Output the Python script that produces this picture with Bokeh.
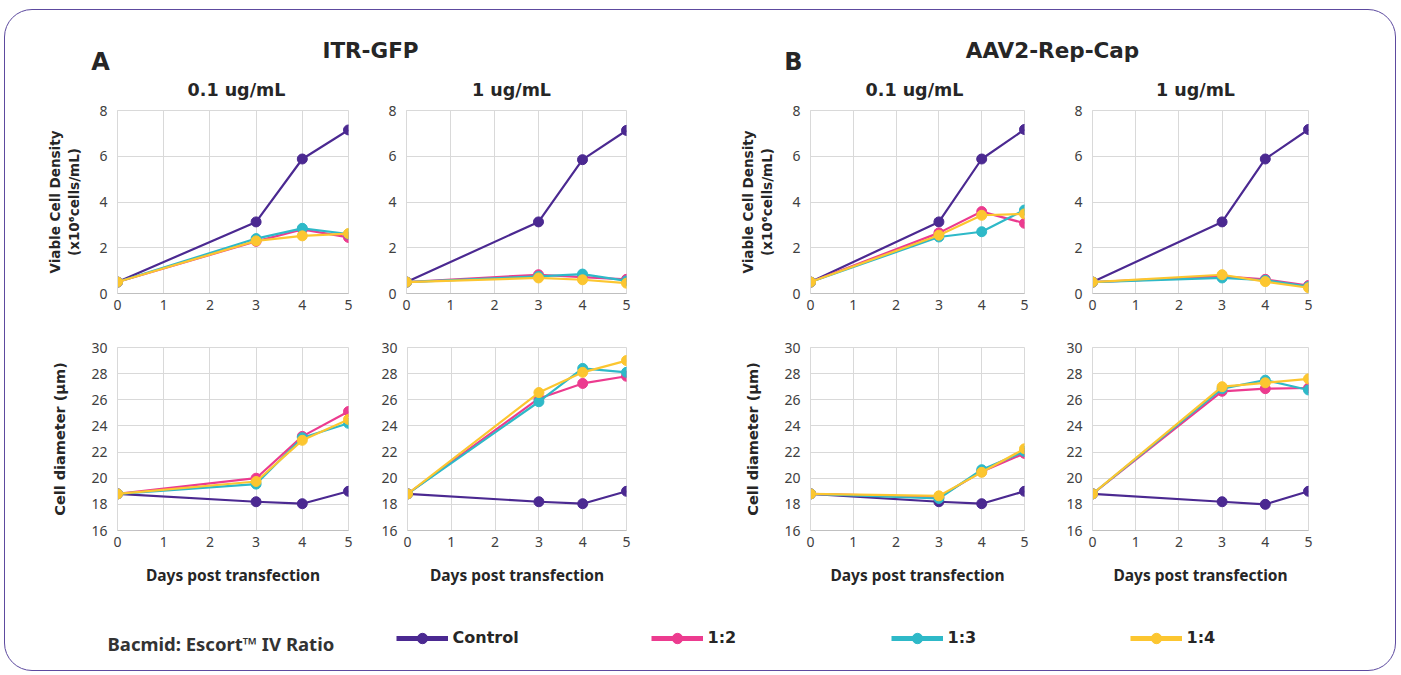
from bokeh.plotting import figure
from bokeh.layouts import row, column
from bokeh.models import Range1d, FixedTicker, Label, Legend, LegendItem
from bokeh.embed import file_html
from bokeh.resources import INLINE

# ---------------- data ----------------
days = [0, 3, 4, 5]
series = ["Control", "1:2", "1:3", "1:4"]
colors = ["#4B2991", "#EC3B8F", "#2EB9C8", "#FCC630"]

itr_vcd_low = {"Control": [0.5, 3.13, 5.88, 7.15], "1:2": [0.5, 2.28, 2.8, 2.45],
               "1:3": [0.5, 2.4, 2.85, 2.6], "1:4": [0.5, 2.3, 2.52, 2.62]}
itr_vcd_high = {"Control": [0.5, 3.13, 5.85, 7.13], "1:2": [0.5, 0.82, 0.72, 0.62],
                "1:3": [0.5, 0.75, 0.85, 0.55], "1:4": [0.5, 0.68, 0.6, 0.45]}
itr_dia_low = {"Control": [18.8, 18.2, 18.05, 19.0], "1:2": [18.8, 20.0, 23.2, 25.1],
               "1:3": [18.8, 19.55, 23.1, 24.2], "1:4": [18.8, 19.75, 22.9, 24.5]}
itr_dia_high = {"Control": [18.8, 18.2, 18.05, 19.0], "1:2": [18.8, 26.1, 27.25, 27.8],
                "1:3": [18.8, 25.85, 28.4, 28.1], "1:4": [18.8, 26.55, 28.1, 29.0]}
aav_vcd_low = {"Control": [0.5, 3.13, 5.88, 7.17], "1:2": [0.5, 2.65, 3.58, 3.07],
               "1:3": [0.5, 2.47, 2.7, 3.65], "1:4": [0.5, 2.55, 3.42, 3.48]}
aav_vcd_high = {"Control": [0.5, 3.13, 5.88, 7.17], "1:2": [0.5, 0.75, 0.62, 0.35],
                "1:3": [0.5, 0.68, 0.58, 0.3], "1:4": [0.5, 0.82, 0.52, 0.25]}
aav_dia_low = {"Control": [18.8, 18.2, 18.05, 19.0], "1:2": [18.8, 18.55, 20.5, 21.9],
               "1:3": [18.8, 18.45, 20.65, 22.05], "1:4": [18.8, 18.65, 20.45, 22.25]}
aav_dia_high = {"Control": [18.8, 18.2, 18.0, 19.0], "1:2": [18.8, 26.65, 26.85, 26.9],
                "1:3": [18.8, 26.85, 27.5, 26.75], "1:4": [18.8, 27.0, 27.3, 27.6]}

day_ticks = [0, 1, 2, 3, 4, 5]
vcd_ticks = [0, 2, 4, 6, 8]
dia_ticks = [16, 18, 20, 22, 24, 26, 28, 30]

group_titles = ["ITR-GFP", "AAV2-Rep-Cap"]
group_letters = ["A", "B"]
conc_titles = ["0.1 ug/mL", "1 ug/mL"]
vcd_label = "Viable Cell Density\n(x10\u2076cells/mL)"
dia_label = "Cell diameter (\u00b5m)"
x_label = "Days post transfection"
legend_title = "Bacmid: Escort\u2122 IV Ratio"

TICK_FONT = "Noto Sans"
BOLD_FONT = "DejaVu Sans"
GRID = "#D9D9D9"
TEXT = "#262626"
NAN = float("nan")

W = 1387


def chart(data, width, height, mbl, mbr, mbt, mbb, yr, yticks, ylabel=None, xlabel=None,
          ylstand=17, ylsize="13.5px"):
    p = figure(width=width, height=height, output_backend="svg", toolbar_location=None,
               x_range=Range1d(0, 5), y_range=Range1d(*yr),
               min_border_left=mbl, min_border_right=mbr, min_border_top=mbt, min_border_bottom=mbb)
    p.border_fill_color = None
    p.background_fill_color = "white"
    p.outline_line_color = GRID
    p.xaxis.ticker = FixedTicker(ticks=day_ticks)
    p.yaxis.ticker = FixedTicker(ticks=yticks)
    for ax in (p.xaxis, p.yaxis):
        ax.major_tick_line_color = None
        ax.minor_tick_line_color = None
        ax.major_tick_out = 0
        ax.major_tick_in = 0
        ax.major_label_text_font = TICK_FONT
        ax.major_label_text_font_size = "14px"
        ax.major_label_text_color = "#404040"
    p.xaxis.axis_line_color = "#BFBFBF"
    p.yaxis.axis_line_color = GRID
    p.xaxis.major_label_standoff = 6
    p.yaxis.major_label_standoff = 10
    p.grid.grid_line_color = GRID
    p.xgrid.ticker = FixedTicker(ticks=day_ticks)
    p.ygrid.ticker = FixedTicker(ticks=yticks)
    if ylabel:
        p.yaxis.axis_label = ylabel
        p.yaxis.axis_label_text_font = BOLD_FONT
        p.yaxis.axis_label_text_font_style = "bold"
        p.yaxis.axis_label_text_font_size = ylsize
        p.yaxis.axis_label_text_color = TEXT
        p.yaxis.axis_label_standoff = ylstand
    if xlabel:
        p.xaxis.axis_label = xlabel
        p.xaxis.axis_label_text_font = TICK_FONT
        p.xaxis.axis_label_text_font_style = "bold"
        p.xaxis.axis_label_text_font_size = "15.5px"
        p.xaxis.axis_label_text_color = TEXT
        p.xaxis.axis_label_standoff = 14
    for name, col in zip(series, colors):
        p.line(days, data[name], line_color=col, line_width=2.2)
        p.scatter(days, data[name], size=10, fill_color=col, line_color=col)
    return p


# column geometry: (width, min_border_left, min_border_right)
cols = [(370, 109, 30), (330, 28, 82), (350, 102, 34), (W - 1050, 34, W - 1050 - 34 - 216)]
top_h, bot_h = 233, 275
top_data = [itr_vcd_low, itr_vcd_high, aav_vcd_low, aav_vcd_high]
bot_data = [itr_dia_low, itr_dia_high, aav_dia_low, aav_dia_high]

top_row, bot_row = [], []
for i, (w, l, r) in enumerate(cols):
    yl = vcd_label if i % 2 == 0 else None
    top_row.append(chart(top_data[i], w, top_h, l, r, 10, 40, (0, 8), vcd_ticks, ylabel=yl,
                         ylstand=14, ylsize="13.5px"))
    yl2 = dia_label if i % 2 == 0 else None
    bot_row.append(chart(bot_data[i], w, bot_h, l, r, 14, 78, (16, 30), dia_ticks,
                         ylabel=yl2, xlabel=x_label, ylstand=20, ylsize="14.5px"))

# ---------------- header ----------------
hdr_h = 90
header = figure(width=W, height=hdr_h, output_backend="svg", toolbar_location=None,
                x_range=Range1d(0, W), y_range=Range1d(hdr_h, 0),
                x_axis_location=None, y_axis_location=None, min_border=0)
header.grid.visible = False
header.outline_line_color = None
header.border_fill_color = None
header.background_fill_color = None

title_x = [362, 1044]
letter_x = [92, 785]
sub_x = [228, 503, 906, 1187]
for t, tx in zip(group_titles, title_x):
    header.add_layout(Label(x=tx, y=40, text=t, text_align="center", text_baseline="middle",
                            text_font=BOLD_FONT, text_font_style="bold", text_font_size="21.5px",
                            text_color=TEXT))
for t, tx in zip(group_letters, letter_x):
    header.add_layout(Label(x=tx, y=51, text=t, text_align="center", text_baseline="middle",
                            text_font=BOLD_FONT, text_font_style="bold", text_font_size="24px",
                            text_color=TEXT))
for k, sx in enumerate(sub_x):
    header.add_layout(Label(x=sx, y=79, text=conc_titles[k % 2], text_align="center",
                            text_baseline="middle", text_font=BOLD_FONT, text_font_style="bold",
                            text_font_size="17.5px", text_color=TEXT))

# ---------------- footer legend ----------------
ftr_h = 62
footer = figure(width=W, height=ftr_h, output_backend="svg", toolbar_location=None,
                x_range=Range1d(0, W), y_range=Range1d(0, ftr_h),
                x_axis_location=None, y_axis_location=None, min_border=0)
footer.grid.visible = False
footer.outline_line_color = None
footer.border_fill_color = None
footer.background_fill_color = None
footer.add_layout(Label(x=99, y=27, text=legend_title, text_align="left", text_baseline="middle",
                        text_font=TICK_FONT, text_font_style="bold", text_font_size="18.5px",
                        text_color="#333333"))
leg_x = [388, 643, 883, 1122]
for name, col, lx in zip(series, colors, leg_x):
    lr = footer.line([NAN], [NAN], line_color=col, line_width=5)
    sr = footer.scatter([NAN], [NAN], size=10, fill_color=col, line_color=col)
    leg = Legend(items=[LegendItem(label=name, renderers=[lr, sr])], location=(lx, 19),
                 glyph_width=52, glyph_height=26, label_standoff=5, padding=0, margin=0,
                 border_line_color=None, background_fill_alpha=0,
                 label_text_font=BOLD_FONT, label_text_font_style="bold",
                 label_text_font_size="16px", label_text_color=TEXT)
    footer.add_layout(leg)

layout = column(header, row(*top_row), row(*bot_row), footer,
                styles={"border": "1.5px solid #5D4A9F", "border-radius": "28px",
                        "margin-left": "4px", "margin-top": "8.5px", "padding-left": "2.5px"})

open("out.html", "w").write(file_html(layout, INLINE))
